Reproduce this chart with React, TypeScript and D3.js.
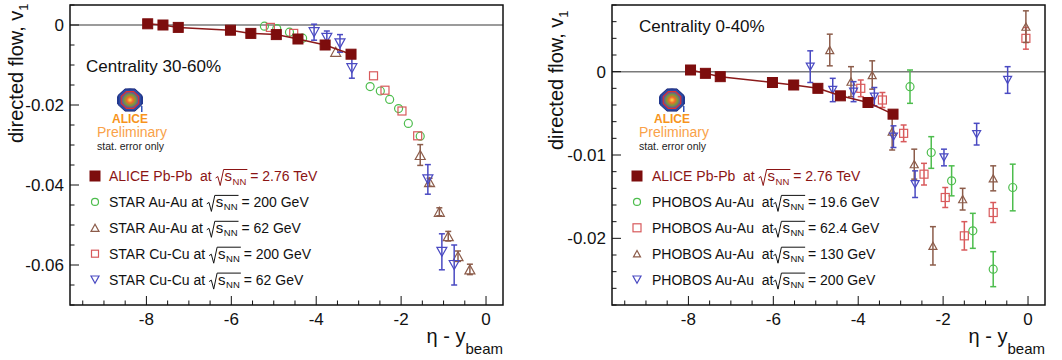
import { useEffect, useRef } from 'react';
import * as d3 from 'd3';

type Pt = { eta: number; v1: number; err?: number };

// ---- left panel: centrality 30-60%
const aliceLeft: Pt[] = [
    { eta: -7.97, v1: 0.0003 },
    { eta: -7.61, v1: 0.0 },
    { eta: -7.25, v1: -0.0006 },
    { eta: -6.02, v1: -0.0013 },
    { eta: -5.54, v1: -0.0021 },
    { eta: -4.94, v1: -0.0024 },
    { eta: -4.43, v1: -0.0035 },
    { eta: -3.79, v1: -0.005 },
    { eta: -3.18, v1: -0.0073 },
];
const starAuAu200: Pt[] = [
    { eta: -5.22, v1: -0.0003 },
    { eta: -4.93, v1: -0.0009 },
    { eta: -4.63, v1: -0.0018 },
    { eta: -4.32, v1: -0.0033 },
    { eta: -2.73, v1: -0.0154 },
    { eta: -2.49, v1: -0.0165 },
    { eta: -2.27, v1: -0.0186 },
    { eta: -2.06, v1: -0.0209 },
    { eta: -1.83, v1: -0.0246 },
    { eta: -1.55, v1: -0.0278 },
];
const starAuAu62: Pt[] = [
    { eta: -3.54, v1: -0.0067 },
    { eta: -1.55, v1: -0.0325, err: 0.0026 },
    { eta: -1.33, v1: -0.0393, err: 0.001 },
    { eta: -1.1, v1: -0.0467, err: 0.001 },
    { eta: -0.89, v1: -0.0528, err: 0.0012 },
    { eta: -0.66, v1: -0.0578, err: 0.0013 },
    { eta: -0.38, v1: -0.0611, err: 0.0013 },
];
const starCuCu200: Pt[] = [
    { eta: -5.08, v1: -0.0006 },
    { eta: -4.53, v1: -0.0021 },
    { eta: -2.65, v1: -0.0127 },
    { eta: -2.38, v1: -0.0163 },
    { eta: -1.98, v1: -0.0215 },
    { eta: -1.61, v1: -0.0277 },
];
const starCuCu62: Pt[] = [
    { eta: -4.05, v1: -0.0018, err: 0.002 },
    { eta: -3.75, v1: -0.0032, err: 0.0017 },
    { eta: -3.44, v1: -0.0046, err: 0.0022 },
    { eta: -3.16, v1: -0.0108, err: 0.0025 },
    { eta: -1.37, v1: -0.0386, err: 0.0037 },
    { eta: -1.04, v1: -0.0567, err: 0.0045 },
    { eta: -0.75, v1: -0.06, err: 0.005 },
];

// ---- right panel: centrality 0-40%
const aliceRight: Pt[] = [
    { eta: -7.95, v1: 0.0002 },
    { eta: -7.6, v1: -0.0002 },
    { eta: -7.25, v1: -0.0006 },
    { eta: -6.02, v1: -0.0013 },
    { eta: -5.52, v1: -0.0016 },
    { eta: -4.95, v1: -0.002 },
    { eta: -4.42, v1: -0.0029 },
    { eta: -3.77, v1: -0.0037 },
    { eta: -3.18, v1: -0.0051 },
];
const phobos196: Pt[] = [
    { eta: -2.78, v1: -0.0018, err: 0.002 },
    { eta: -2.28, v1: -0.0097, err: 0.0019 },
    { eta: -1.8, v1: -0.0131, err: 0.0018 },
    { eta: -1.3, v1: -0.0191, err: 0.0021 },
    { eta: -0.82, v1: -0.0237, err: 0.0021 },
    { eta: -0.36, v1: -0.0139, err: 0.0028 },
];
const phobos624: Pt[] = [
    { eta: -3.94, v1: -0.002, err: 0.001 },
    { eta: -3.43, v1: -0.0034, err: 0.0009 },
    { eta: -2.93, v1: -0.0074, err: 0.001 },
    { eta: -2.45, v1: -0.0123, err: 0.0013 },
    { eta: -1.95, v1: -0.0151, err: 0.0012 },
    { eta: -1.5, v1: -0.0197, err: 0.0017 },
    { eta: -0.82, v1: -0.0169, err: 0.0012 },
    { eta: -0.05, v1: 0.004, err: 0.0013 },
];
const phobos130: Pt[] = [
    { eta: -4.67, v1: 0.0026, err: 0.0019 },
    { eta: -4.17, v1: -0.0012, err: 0.0018 },
    { eta: -3.67, v1: -0.0004, err: 0.0017 },
    { eta: -3.2, v1: -0.0072, err: 0.0022 },
    { eta: -2.68, v1: -0.0111, err: 0.0018 },
    { eta: -2.24, v1: -0.0209, err: 0.0023 },
    { eta: -1.54, v1: -0.0153, err: 0.0013 },
    { eta: -0.82, v1: -0.0128, err: 0.0015 },
    { eta: -0.05, v1: 0.0054, err: 0.0019 },
];
const phobos200: Pt[] = [
    { eta: -5.13, v1: 0.0006, err: 0.0019 },
    { eta: -4.6, v1: -0.0022, err: 0.0014 },
    { eta: -4.11, v1: -0.0024, err: 0.0012 },
    { eta: -3.62, v1: -0.003, err: 0.0011 },
    { eta: -3.17, v1: -0.0078, err: 0.0013 },
    { eta: -2.66, v1: -0.0135, err: 0.0016 },
    { eta: -1.98, v1: -0.0103, err: 0.001 },
    { eta: -1.21, v1: -0.0075, err: 0.0013 },
    { eta: -0.48, v1: -0.001, err: 0.0016 },
];

const xTicks = [-8, -6, -4, -2, 0];
const xTickLabels = ['-8', '-6', '-4', '-2', '0'];
const leftYTicks = [0, -0.02, -0.04, -0.06];
const leftYTickLabels = ['0', '-0.02', '-0.04', '-0.06'];
const rightYTicks = [0, -0.01, -0.02];
const rightYTickLabels = ['0', '-0.01', '-0.02'];

const leftLegendPre = ['ALICE Pb-Pb  at ', 'STAR Au-Au at ', 'STAR Au-Au at ', 'STAR Cu-Cu at ', 'STAR Cu-Cu at '];
const leftLegendPost = [' = 2.76 TeV', ' = 200 GeV', ' = 62 GeV', ' = 200 GeV', ' = 62 GeV'];
const rightLegendPre = ['ALICE Pb-Pb  at ', 'PHOBOS Au-Au  at', 'PHOBOS Au-Au  at', 'PHOBOS Au-Au  at', 'PHOBOS Au-Au  at'];
const rightLegendPost = [' = 2.76 TeV', ' = 19.6 GeV', ' = 62.4 GeV', ' = 130 GeV', ' = 200 GeV'];

const aliceColor = '#7d0d0d';
const green = '#4dbd4d';
const pink = '#d85a5c';
const brown = '#8c5c4a';
const blue = '#4a4ac2';
const font = '"Liberation Sans", Arial, Helvetica, sans-serif';

type Shape = 'square' | 'circle' | 'up' | 'down';
type Series = { data: Pt[]; shape: Shape; color: string; size: number; filled?: boolean };

function marker(g: any, shape: Shape, cx: number, cy: number, s: number, color: string, filled = false) {
    const fill = filled ? color : 'white';
    const sw = filled ? 1 : 1.2;
    const fo = filled ? 1 : 0;
    if (shape === 'square') {
        g.append('rect').attr('x', cx - s / 2).attr('y', cy - s / 2).attr('width', s).attr('height', s)
            .attr('fill', fill).attr('fill-opacity', fo).attr('stroke', color).attr('stroke-width', sw);
    } else if (shape === 'circle') {
        g.append('circle').attr('cx', cx).attr('cy', cy).attr('r', s / 2)
            .attr('fill', 'none').attr('stroke', color).attr('stroke-width', sw);
    } else {
        const h = s * 0.9;
        const d = shape === 'up' ? 1 : -1;
        const pts = [[cx, cy - (d * h) / 2], [cx - s / 2, cy + (d * h) / 2], [cx + s / 2, cy + (d * h) / 2]];
        g.append('path').attr('d', 'M' + pts.map(p => p.join(',')).join('L') + 'Z')
            .attr('fill', 'none').attr('stroke', color).attr('stroke-width', sw);
    }
}

function legendLine(g: any, x: number, y: number, pre: string, post: string, color: string) {
    const t1 = g.append('text').attr('x', x).attr('y', y).attr('font-size', 14).attr('fill', color)
        .style('white-space', 'pre').text(pre);
    let cx = x + (t1.node() as SVGTextElement).getComputedTextLength();
    const top = y - 11.5;
    const radStart = cx;
    const sText = g.append('text').attr('x', cx + 9).attr('y', y).attr('font-size', 15).attr('fill', color).text('s');
    const sEnd = cx + 9 + (sText.node() as SVGTextElement).getComputedTextLength();
    const nn = g.append('text').attr('x', sEnd + 0.5).attr('y', y + 3.5).attr('font-size', 9.5).attr('fill', color).text('NN');
    const nnEnd = sEnd + 0.5 + (nn.node() as SVGTextElement).getComputedTextLength();
    g.append('path')
        .attr('d', `M${radStart},${y - 3}L${radStart + 2.2},${y - 4.5}L${radStart + 4.6},${y + 4.5}L${radStart + 8},${top}L${nnEnd + 1},${top}`)
        .attr('fill', 'none').attr('stroke', color).attr('stroke-width', 1);
    cx = nnEnd;
    g.append('text').attr('x', cx).attr('y', y).attr('font-size', 14).attr('fill', color)
        .style('white-space', 'pre').text(post);
}

function aliceLogo(g: any, cx: number, cy: number, textX: number, gradId: string) {
    const oct = d3.range(8).map(i => {
        const a = Math.PI / 8 + (i * Math.PI) / 4;
        return [cx + 13 * Math.cos(a), cy + 12 * Math.sin(a)];
    });
    g.append('path').attr('d', `M${cx - 13},${cy + 4}L${cx - 13},${cy - 3}Q${cx},${cy - 20} ${cx + 13},${cy - 3}L${cx + 13},${cy + 4}Z`)
        .attr('fill', '#2b4aa6');
    g.append('path').attr('d', 'M' + oct.map(p => p.join(',')).join('L') + 'Z')
        .attr('fill', '#2b4aa6').attr('stroke', '#1c2a7a').attr('stroke-width', 1);
    const inner = d3.range(8).map(i => {
        const a = Math.PI / 8 + (i * Math.PI) / 4;
        return [cx + 9.5 * Math.cos(a), cy + 9 * Math.sin(a)];
    });
    g.append('path').attr('d', 'M' + inner.map(p => p.join(',')).join('L') + 'Z')
        .attr('fill', `url(#${gradId})`).attr('stroke', '#e03030').attr('stroke-width', 1.2);
    g.append('rect').attr('x', cx + 11).attr('y', cy + 6).attr('width', 1.5).attr('height', 6).attr('fill', '#3355bb');
    g.append('text').attr('x', cx).attr('y', cy + 23).attr('text-anchor', 'middle').attr('font-size', 12)
        .attr('font-weight', 'bold').attr('fill', '#f7941d').text('ALICE');
    g.append('text').attr('x', textX).attr('y', cy + 37).attr('font-size', 14).attr('fill', '#f9a24a').text('Preliminary');
    g.append('text').attr('x', textX).attr('y', cy + 49.5).attr('font-size', 10.5).attr('fill', '#222').text('stat. error only');
}

type PanelCfg = {
    x0: number; x1: number; y0: number; y1: number;
    yDomain: [number, number];
    yTicks: number[]; yTickLabels: string[]; yMinor: number;
    series: Series[]; alice: Pt[];
    legendPre: string[]; legendPost: string[]; legendX: number; markerX: number;
    centrality: string; centX: number; centY: number;
    logoX: number; logoTextX: number;
    titleX: number; titleY: number;
};

function drawPanel(svg: any, p: PanelCfg, gradId: string) {
    const x = d3.scaleLinear().domain([-9.8, 0.4]).range([p.x0, p.x1]);
    const y = d3.scaleLinear().domain(p.yDomain).range([p.y1, p.y0]);
    const g = svg.append('g').attr('font-family', font);

    // zero line
    g.append('line').attr('x1', p.x0).attr('x2', p.x1).attr('y1', y(0)).attr('y2', y(0))
        .attr('stroke', '#7a7a7a').attr('stroke-width', 1.5);

    // ticks
    const xMinor = d3.range(-9.5, 0.01, 0.5).map(v => Math.round(v * 10) / 10);
    xMinor.forEach(v => {
        const major = xTicks.includes(v);
        g.append('line').attr('x1', x(v)).attr('x2', x(v)).attr('y1', p.y1).attr('y2', p.y1 - (major ? 9 : 4.5))
            .attr('stroke', '#111').attr('stroke-width', 1);
    });
    const n = Math.round((p.yDomain[1] - p.yDomain[0]) / p.yMinor);
    d3.range(0, n + 1).map(i => +(p.yDomain[0] + i * p.yMinor).toFixed(4)).forEach(v => {
        const major = p.yTicks.some(t => Math.abs(t - v) < 1e-6);
        g.append('line').attr('x1', p.x0).attr('x2', p.x0 + (major ? 9 : 4.5)).attr('y1', y(v)).attr('y2', y(v))
            .attr('stroke', '#111').attr('stroke-width', 1);
    });
    xTicks.forEach((v, i) => {
        g.append('text').attr('x', x(v)).attr('y', p.y1 + 20).attr('text-anchor', 'middle')
            .attr('font-size', 17).attr('fill', '#111').text(xTickLabels[i]);
    });
    p.yTicks.forEach((v, i) => {
        g.append('text').attr('x', p.x0 - 6).attr('y', y(v) + 6).attr('text-anchor', 'end')
            .attr('font-size', 17).attr('fill', '#111').text(p.yTickLabels[i]);
    });

    // axis titles
    const xt = g.append('text').attr('x', p.x1).attr('y', 343).attr('text-anchor', 'end').attr('font-size', 20).attr('fill', '#111');
    xt.append('tspan').text('η - y');
    xt.append('tspan').attr('font-size', 15).attr('dy', 11).text('beam');
    const yt = g.append('text').attr('transform', `translate(${p.titleX},${p.titleY}) rotate(-90)`)
        .attr('font-size', 20).attr('fill', '#111');
    yt.append('tspan').text('directed flow, v');
    yt.append('tspan').attr('font-size', 13).attr('dy', 5).text('1');

    // data series
    p.series.forEach(s => {
        s.data.forEach(d => {
            if (d.err) {
                const xx = x(d.eta);
                const ya = y(d.v1 + d.err);
                const yb = y(d.v1 - d.err);
                g.append('line').attr('x1', xx).attr('x2', xx).attr('y1', ya).attr('y2', yb)
                    .attr('stroke', s.color).attr('stroke-width', 1.5);
                [ya, yb].forEach(yy => g.append('line').attr('x1', xx - 3).attr('x2', xx + 3).attr('y1', yy).attr('y2', yy)
                    .attr('stroke', s.color).attr('stroke-width', 1.5));
            }
            marker(g, s.shape, x(d.eta), y(d.v1), s.size, s.color, s.filled);
        });
    });

    // ALICE
    const line = d3.line<Pt>().x(d => x(d.eta)).y(d => y(d.v1));
    g.append('path').attr('d', line(p.alice)).attr('fill', 'none').attr('stroke', '#8b1a1a').attr('stroke-width', 1.5);
    p.alice.forEach(d => marker(g, 'square', x(d.eta), y(d.v1), 10, aliceColor, true));

    // legend
    const legendShapes: Series[] = [{ data: [], shape: 'square', color: aliceColor, size: 10, filled: true }, ...p.series];
    const legendSize = [10, 7, 8, 7, 8];
    legendShapes.forEach((s, i) => {
        const by = 181 + i * 25.9;
        marker(g, s.shape, p.markerX, by - 5, legendSize[i], s.color, s.filled);
        legendLine(g, p.legendX, by, p.legendPre[i], p.legendPost[i], i === 0 ? '#8b1414' : '#111');
    });

    g.append('text').attr('x', p.centX).attr('y', p.centY).attr('font-size', 17).attr('fill', '#111').text(p.centrality);
    aliceLogo(g, p.logoX, 100, p.logoTextX, gradId);

    // frame
    g.append('rect').attr('x', p.x0).attr('y', p.y0).attr('width', p.x1 - p.x0).attr('height', p.y1 - p.y0)
        .attr('fill', 'none').attr('stroke', '#111').attr('stroke-width', 1.5);
}

export default function App() {
    const svgRef = useRef<SVGSVGElement | null>(null);

    useEffect(() => {
        if (!svgRef.current) return;
        const svg = d3.select(svgRef.current);
        svg.selectAll('*').remove();

        const grad = svg.append('defs').append('radialGradient').attr('id', 'aliceGrad');
        grad.append('stop').attr('offset', '0%').attr('stop-color', '#ffe14a');
        grad.append('stop').attr('offset', '35%').attr('stop-color', '#f06a2a');
        grad.append('stop').attr('offset', '65%').attr('stop-color', '#7a9a3a');
        grad.append('stop').attr('offset', '100%').attr('stop-color', '#5a4ab0');

        drawPanel(svg, {
            x0: 70, x1: 503, y0: 5, y1: 305,
            yDomain: [-0.07, 0.005],
            yTicks: leftYTicks, yTickLabels: leftYTickLabels, yMinor: 0.005,
            series: [
                { data: starAuAu200, shape: 'circle', color: green, size: 8 },
                { data: starAuAu62, shape: 'up', color: brown, size: 10 },
                { data: starCuCu200, shape: 'square', color: pink, size: 8 },
                { data: starCuCu62, shape: 'down', color: blue, size: 10 },
            ],
            alice: aliceLeft,
            legendPre: leftLegendPre, legendPost: leftLegendPost, legendX: 109, markerX: 95,
            centrality: 'Centrality 30-60%', centX: 86, centY: 72,
            logoX: 130, logoTextX: 97,
            titleX: 23, titleY: 143,
        }, 'aliceGrad');

        drawPanel(svg, {
            x0: 612, x1: 1045, y0: 5, y1: 305,
            yDomain: [-0.028, 0.008],
            yTicks: rightYTicks, yTickLabels: rightYTickLabels, yMinor: 0.002,
            series: [
                { data: phobos196, shape: 'circle', color: green, size: 8 },
                { data: phobos624, shape: 'square', color: pink, size: 8 },
                { data: phobos130, shape: 'up', color: brown, size: 8 },
                { data: phobos200, shape: 'down', color: blue, size: 8 },
            ],
            alice: aliceRight,
            legendPre: rightLegendPre, legendPost: rightLegendPost, legendX: 652, markerX: 637,
            centrality: 'Centrality 0-40%', centX: 639, centY: 32,
            logoX: 672, logoTextX: 639,
            titleX: 563, titleY: 150,
        }, 'aliceGrad');
    }, []);

    return (
        <svg
            ref={svgRef}
            width={1062}
            height={360}
            style={{ position: 'absolute', left: 0, top: 0, background: 'white' }}
        ></svg>
    );
}
